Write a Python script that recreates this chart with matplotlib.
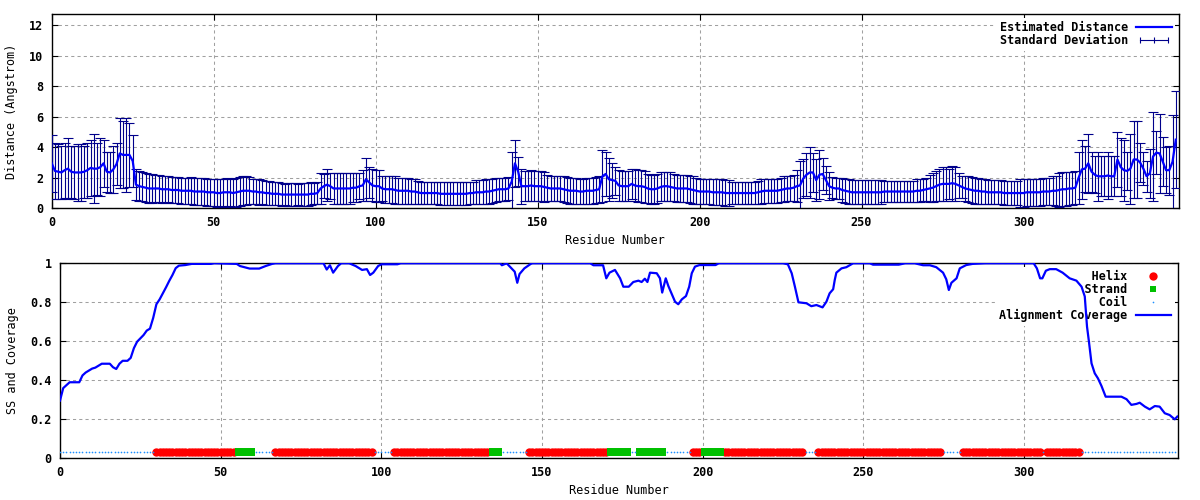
import numpy as np
import matplotlib.pyplot as plt
from matplotlib.lines import Line2D
from matplotlib.legend_handler import HandlerLine2D

# data: residue 0..347
residues = np.arange(348)

distance = [
    2.95, 2.45, 2.4, 2.35, 2.5, 2.6, 2.4, 2.35, 2.35, 2.35,
    2.4, 2.5, 2.65, 2.6, 2.6, 2.7, 2.95, 2.4, 2.35, 2.55,
    2.9, 3.6, 3.5, 3.5, 3.5, 3.1, 1.55, 1.45, 1.4, 1.35,
    1.3, 1.3, 1.3, 1.3, 1.25, 1.25, 1.25, 1.2, 1.2, 1.2,
    1.15, 1.15, 1.15, 1.15, 1.1, 1.1, 1.1, 1.1, 1.05, 1.05,
    1.05, 1.0, 1.0, 1.05, 1.05, 1.05, 1.0, 1.05, 1.1, 1.15,
    1.15, 1.15, 1.1, 1.1, 1.05, 1.05, 1.0, 1.0, 0.95, 0.95,
    0.95, 0.9, 0.9, 0.9, 0.9, 0.9, 0.9, 0.9, 0.9, 0.9,
    0.95, 0.95, 1.0, 1.3, 1.45, 1.55, 1.45, 1.3, 1.3, 1.3,
    1.3, 1.3, 1.3, 1.35, 1.35, 1.45, 1.5, 1.9, 1.7, 1.5,
    1.45, 1.45, 1.3, 1.25, 1.25, 1.25, 1.2, 1.15, 1.15, 1.15,
    1.15, 1.1, 1.1, 1.05, 1.0, 1.0, 1.0, 1.0, 1.0, 1.0,
    0.95, 0.95, 0.95, 0.95, 0.95, 0.95, 0.95, 0.95, 0.95, 1.0,
    1.0, 1.05, 1.05, 1.05, 1.1, 1.1, 1.15, 1.2, 1.25, 1.25,
    1.25, 1.3, 1.75, 2.95, 2.4, 1.45, 1.45, 1.45, 1.5, 1.45,
    1.45, 1.45, 1.4, 1.35, 1.3, 1.3, 1.3, 1.3, 1.25, 1.2,
    1.15, 1.15, 1.15, 1.1, 1.1, 1.15, 1.15, 1.15, 1.2, 1.25,
    2.1, 2.25, 1.9, 1.85, 1.8, 1.5, 1.45, 1.45, 1.45, 1.6,
    1.5, 1.45, 1.45, 1.4, 1.3, 1.25, 1.25, 1.3, 1.4, 1.45,
    1.45, 1.4, 1.35, 1.3, 1.3, 1.3, 1.3, 1.25, 1.2, 1.15,
    1.1, 1.1, 1.1, 1.1, 1.05, 1.05, 1.05, 1.05, 1.0, 1.0,
    1.0, 1.0, 1.0, 1.0, 1.0, 1.0, 1.0, 1.0, 1.05, 1.1,
    1.15, 1.15, 1.15, 1.15, 1.15, 1.2, 1.25, 1.3, 1.3, 1.35,
    1.45, 1.5, 1.95, 2.2, 2.35, 2.35, 1.85, 2.2, 2.25, 1.85,
    1.45, 1.35, 1.3, 1.3, 1.2, 1.15, 1.1, 1.05, 1.05, 1.05,
    1.05, 1.05, 1.05, 1.05, 1.05, 1.05, 1.05, 1.1, 1.1, 1.1,
    1.1, 1.1, 1.1, 1.1, 1.1, 1.1, 1.1, 1.15, 1.15, 1.2,
    1.25, 1.3, 1.35, 1.45, 1.55, 1.6, 1.6, 1.6, 1.65, 1.6,
    1.5, 1.4, 1.3, 1.25, 1.2, 1.15, 1.15, 1.1, 1.1, 1.05,
    1.05, 1.05, 1.05, 1.05, 1.0, 1.0, 1.0, 1.0, 1.0, 1.0,
    1.0, 1.05, 1.05, 1.05, 1.05, 1.05, 1.1, 1.1, 1.1, 1.15,
    1.15, 1.2, 1.25, 1.25, 1.3, 1.3, 1.35, 2.0, 2.55, 2.6,
    2.95, 2.4, 2.2, 2.1, 2.1, 2.1, 2.15, 2.1, 2.1, 3.2,
    2.7, 2.5, 2.45, 2.6, 3.2, 3.2, 3.0, 2.6, 2.1, 2.3,
    3.4, 3.65, 3.6, 3.05, 2.5, 2.5, 3.05, 4.5,
]

std_dev = [
    1.85, 1.85, 1.8, 1.75, 1.8, 2.0, 1.7, 1.75, 1.85, 1.85,
    1.7, 1.8, 1.85, 2.25, 1.7, 1.9, 1.55, 1.3, 1.35, 1.55,
    1.4, 2.3, 2.2, 2.4, 2.1, 1.7, 1.0, 1.0, 0.95, 0.95,
    0.95, 0.95, 0.9, 0.9, 0.9, 0.9, 0.85, 0.85, 0.85, 0.85,
    0.85, 0.85, 0.85, 0.9, 0.9, 0.9, 0.9, 0.9, 0.9, 0.9,
    0.9, 0.9, 0.9, 0.9, 0.95, 0.9, 0.9, 0.95, 0.95, 0.95,
    0.95, 0.9, 0.85, 0.85, 0.85, 0.8, 0.8, 0.8, 0.75, 0.75,
    0.75, 0.75, 0.7, 0.75, 0.75, 0.75, 0.7, 0.75, 0.75, 0.75,
    0.75, 0.7, 0.75, 1.0, 0.8, 1.05, 0.85, 1.0, 1.0, 1.0,
    1.0, 1.0, 1.0, 0.95, 0.95, 0.85, 1.0, 1.4, 1.0, 1.05,
    1.05, 1.05, 0.85, 0.9, 0.9, 0.9, 0.9, 0.85, 0.85, 0.85,
    0.85, 0.85, 0.85, 0.75, 0.75, 0.75, 0.75, 0.75, 0.75, 0.75,
    0.75, 0.75, 0.75, 0.75, 0.75, 0.75, 0.75, 0.75, 0.75, 0.75,
    0.75, 0.8, 0.8, 0.8, 0.8, 0.8, 0.8, 0.8, 0.75, 0.75,
    0.75, 0.75, 1.95, 1.55, 0.95, 1.15, 1.0, 1.0, 1.0, 1.0,
    1.0, 1.0, 1.0, 0.85, 0.85, 0.85, 0.85, 0.85, 0.85, 0.85,
    0.85, 0.85, 0.85, 0.85, 0.85, 0.85, 0.85, 0.85, 0.85, 0.9,
    1.7, 1.45, 1.4, 1.15, 0.9, 1.0, 1.0, 1.0, 1.0, 1.0,
    1.05, 1.05, 1.05, 1.05, 0.95, 0.95, 0.95, 0.95, 0.95, 0.95,
    0.95, 0.95, 0.9, 0.9, 0.9, 0.9, 0.9, 0.9, 0.9, 0.85,
    0.85, 0.85, 0.85, 0.85, 0.85, 0.85, 0.85, 0.85, 0.85, 0.85,
    0.75, 0.75, 0.75, 0.75, 0.75, 0.75, 0.75, 0.75, 0.75, 0.8,
    0.8, 0.8, 0.8, 0.8, 0.8, 0.8, 0.85, 0.85, 0.85, 0.85,
    1.05, 1.6, 1.25, 1.4, 1.65, 1.25, 1.35, 1.6, 1.05, 0.9,
    0.9, 0.7, 0.7, 0.7, 0.8, 0.8, 0.8, 0.8, 0.8, 0.8,
    0.8, 0.8, 0.8, 0.8, 0.8, 0.8, 0.8, 0.7, 0.7, 0.7,
    0.7, 0.7, 0.7, 0.7, 0.7, 0.7, 0.7, 0.75, 0.75, 0.75,
    0.75, 0.9, 0.95, 1.0, 1.05, 1.1, 1.1, 1.0, 1.15, 1.1,
    0.8, 0.75, 0.85, 0.85, 0.85, 0.85, 0.85, 0.85, 0.85, 0.8,
    0.8, 0.8, 0.8, 0.8, 0.8, 0.8, 0.8, 0.8, 0.8, 0.9,
    0.9, 0.9, 0.9, 0.9, 0.9, 0.9, 0.9, 0.9, 0.9, 0.95,
    1.0, 1.1, 1.1, 1.1, 1.1, 1.1, 1.1, 1.7, 1.95, 1.5,
    1.95, 1.3, 1.2, 1.6, 1.3, 1.3, 1.55, 1.3, 1.3, 1.8,
    1.9, 2.0, 1.25, 2.3, 2.5, 2.5, 1.3, 1.1, 1.0, 1.6,
    2.9, 1.4, 2.6, 1.6, 1.5, 1.6, 3.1, 3.2,
]

# alignment coverage, read at the residues where the curve bends
cov_res = [
    0, 1, 2, 3, 6, 7, 8, 9, 10, 11, 12, 13, 15.5, 16.5, 17.5, 18.5, 19.5, 21, 22, 23,
    24, 25, 26, 27, 28, 29, 30, 31, 32, 33, 34, 35, 36, 37, 39, 41, 47, 48, 55, 56,
    59, 62, 64, 66, 67, 82, 83, 84, 85, 86.5, 87.5, 90, 92, 94, 95.5, 96.5, 97.5, 99, 100, 105,
    106, 137, 137.5, 139, 140.5, 141.5, 142.3, 143, 144.5, 146.5, 147, 165, 166, 169, 170, 171, 172.7, 174.3, 175.3, 177,
    178.4, 180, 181, 182, 182.8, 183.6, 185.7, 186.7, 187.4, 188.5, 189.3, 190.3, 191.4, 192.4, 193.5, 194.8, 195.8, 196.6, 197.6, 199,
    204, 205, 225, 226.5, 227.7, 228.7, 229.8, 232.3, 233.8, 235.4, 237.3, 238.5, 239.5, 240.6, 241.1, 241.6, 243.2, 244.7, 246.8, 252,
    253, 261, 263, 266, 268.6, 270.7, 272.7, 274.8, 275.8, 276.6, 277.4, 279, 280, 282, 284, 288, 303, 304, 305, 305.7,
    306.8, 308, 310, 312, 314.2, 316.3, 317.9, 318.9, 319.6, 320.2, 321, 322, 323, 324.1, 325.4, 330.3, 331.9, 333.4, 335, 336,
    337.6, 339.1, 340.7, 342.2, 343.8, 345.3, 346.9, 347.7,
]
cov_val = [
    0.296, 0.36, 0.375, 0.39, 0.39, 0.425, 0.44, 0.45, 0.46, 0.465, 0.475, 0.485, 0.485, 0.467, 0.458, 0.485, 0.5, 0.5, 0.515, 0.565,
    0.598, 0.615, 0.632, 0.655, 0.665, 0.72, 0.79, 0.815, 0.846, 0.877, 0.91, 0.94, 0.975, 0.988, 0.991, 0.997, 0.997, 1.0, 0.997, 0.986,
    0.973, 0.973, 0.986, 0.997, 1.0, 1.0, 0.968, 0.99, 0.952, 0.986, 1.0, 1.0, 0.986, 0.966, 0.97, 0.94, 0.952, 0.986, 0.995, 0.995,
    1.0, 1.0, 0.99, 1.0, 0.974, 0.957, 0.9, 0.945, 0.974, 0.997, 1.0, 1.0, 0.99, 0.99, 0.923, 0.952, 0.966, 0.923, 0.88, 0.88,
    0.904, 0.911, 0.904, 0.921, 0.904, 0.952, 0.949, 0.923, 0.85, 0.923, 0.884, 0.846, 0.803, 0.79, 0.815, 0.832, 0.88, 0.949, 0.983, 0.991,
    0.991, 1.0, 1.0, 0.995, 0.949, 0.88, 0.8, 0.795, 0.78, 0.786, 0.774, 0.803, 0.846, 0.867, 0.915, 0.952, 0.974, 0.98, 1.0, 1.0,
    0.993, 0.993, 1.0, 1.0, 0.99, 0.99, 0.98, 0.952, 0.918, 0.863, 0.9, 0.923, 0.974, 0.991, 0.997, 1.0, 1.0, 0.974, 0.923, 0.923,
    0.962, 0.97, 0.97, 0.952, 0.923, 0.911, 0.88, 0.83, 0.675, 0.598, 0.487, 0.436, 0.41, 0.371, 0.316, 0.316, 0.303, 0.274, 0.279, 0.285,
    0.265, 0.251, 0.268, 0.265, 0.231, 0.222, 0.2, 0.214,
]

# secondary structure segments (first, last residue)
helix_segments = [(30, 54), (67, 97), (104, 133), (146, 170), (197, 199),
                  (207, 231), (236, 274), (281, 305), (307, 317)]
strand_segments = [(55, 60), (134, 137), (171, 177), (180, 188), (200, 206)]
ss_level = 0.03

plt.rcParams['font.family'] = ['DejaVu Sans Mono']
plt.rcParams['font.weight'] = 'bold'
plt.rcParams['font.size'] = 8.5

ss = np.array(['C'] * len(residues))
for a, b in helix_segments:
    ss[a:b + 1] = 'H'
for a, b in strand_segments:
    ss[a:b + 1] = 'E'

# narrow upright block for strand residues
strand_marker = [(-0.6, -1), (0.6, -1), (0.6, 1), (-0.6, 1), (-0.6, -1)]


def style_axes(ax):
    ax.set_axisbelow(True)
    ax.grid(True, color='#a0a0a0', lw=0.75, ls=(0, (3, 3)))
    ax.tick_params(direction='in', top=True, right=True, length=4, width=0.8)
    ax.tick_params(axis='x', pad=5.5)
    ax.tick_params(axis='y', pad=6)
    for sp in ax.spines.values():
        sp.set_linewidth(1.0)


fig = plt.figure(figsize=(12, 5), dpi=100)
ax1 = fig.add_axes([0.0431, 0.5834, 0.9394, 0.3886])
ax2 = fig.add_axes([0.05, 0.0834, 0.9319, 0.3900])

# distance panel
ax1.errorbar(residues, distance, yerr=std_dev, fmt='none', ecolor='#00008b',
             elinewidth=0.8, capsize=3.5, capthick=0.8, zorder=3)
line1, = ax1.plot(residues, distance, color='#0000ff', lw=1.6, zorder=4)
err_proxy = Line2D([], [], color='#00008b', lw=0.8, marker='|', ms=5, mew=0.8)
ax1.set_xlim(0, 348)
ax1.set_ylim(0, 12.74)
ax1.set_xticks(np.arange(0, 301, 50))
ax1.set_yticks(np.arange(0, 13, 2))
ax1.set_xlabel('Residue Number', labelpad=4)
ax1.set_ylabel('Distance (Angstrom)')
ax1.yaxis.set_label_coords(-0.030, 0.5)
style_axes(ax1)
leg1 = ax1.legend([line1, err_proxy], ['Estimated Distance', 'Standard Deviation'],
                  loc='upper right', markerfirst=False, fancybox=False, edgecolor='none',
                  facecolor='white', framealpha=1, handlelength=3.0, handletextpad=0.7,
                  labelspacing=0.0, borderpad=0.3, borderaxespad=0.3,
                  handler_map={err_proxy: HandlerLine2D(numpoints=3)})
leg1.set_zorder(2.5)

# ss and coverage panel
h_helix, = ax2.plot(residues[ss == 'H'], np.full((ss == 'H').sum(), ss_level), 'o',
                    color='#ff0000', ms=6, mew=0, zorder=3)
h_strand, = ax2.plot(residues[ss == 'E'], np.full((ss == 'E').sum(), ss_level),
                     marker=strand_marker, ls='none', color='#00c000', ms=5.4, mew=0, zorder=3)
h_coil, = ax2.plot(residues[ss == 'C'], np.full((ss == 'C').sum(), ss_level), 'o',
                   color='#1e90ff', ms=1.2, mew=0, zorder=3)
h_cov, = ax2.plot(cov_res, cov_val, color='#0000ff', lw=1.6, zorder=4)
strand_key = Line2D([], [], marker='s', ls='none', color='#00c000', ms=5, mew=0)
ax2.set_xlim(0, 348)
ax2.set_ylim(0, 1)
ax2.set_xticks(np.arange(0, 301, 50))
ax2.set_yticks([0, 0.2, 0.4, 0.6, 0.8, 1.0])
ax2.set_yticklabels(['0', '0.2', '0.4', '0.6', '0.8', '1'])
ax2.set_xlabel('Residue Number', labelpad=4)
ax2.set_ylabel('SS and Coverage')
ax2.yaxis.set_label_coords(-0.037, 0.5)
style_axes(ax2)
labels2 = ['Helix', 'Strand', 'Coil', 'Alignment Coverage']
width = max(len(s) for s in labels2)
leg2 = ax2.legend([h_helix, strand_key, h_coil, h_cov], [s.rjust(width) for s in labels2],
                  loc='upper right', markerfirst=False, fancybox=False, edgecolor='none',
                  facecolor='white', framealpha=1, handlelength=3.0, handletextpad=0.7,
                  labelspacing=0.0, borderpad=0.3, borderaxespad=0.3, numpoints=1)
leg2.set_zorder(2.5)

fig.savefig('out.png', dpi=100)
